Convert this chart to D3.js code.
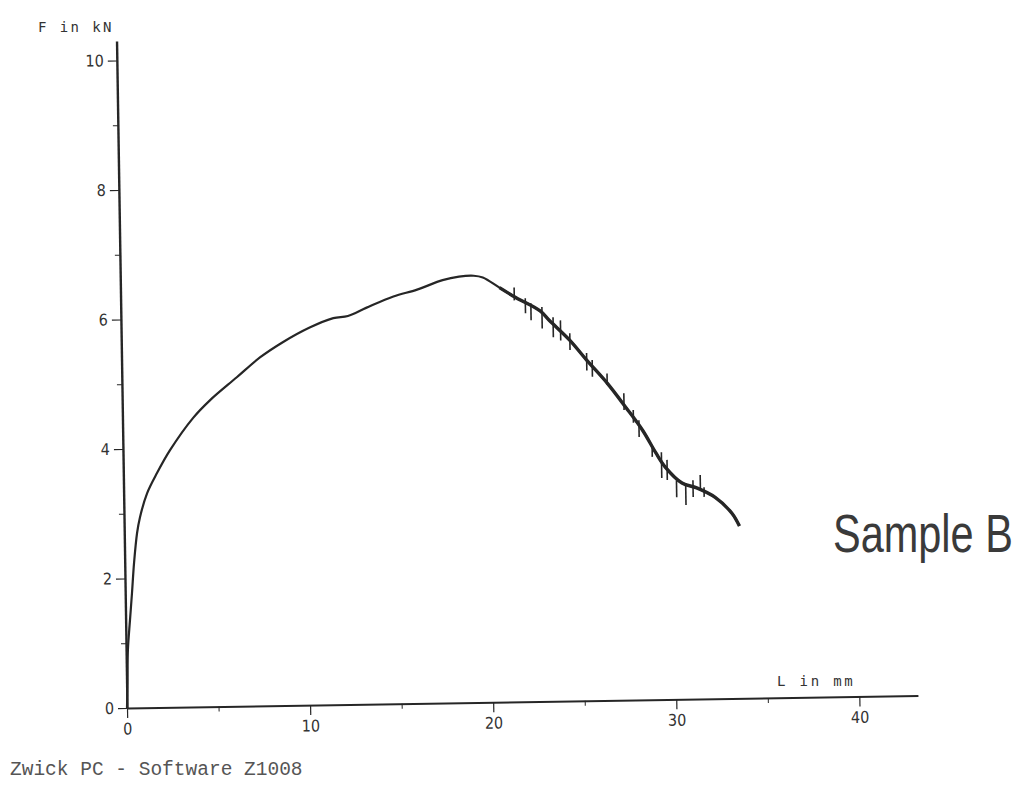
<!DOCTYPE html>
<html lang="en">
<head>
    <meta charset="UTF-8">
    <title>Sample B - Force vs Extension</title>
    <script src="https://d3js.org/d3.v7.min.js"></script>
    <style>
        body { margin: 0; background: #ffffff; }
        svg { display: block; }
    </style>
</head>
<body>
    <div id="chart"></div>

    <script>
        // Curve read from the plotter output (L in mm, F in kN)
        const extensionMm = [0, 0.05, 0.10, 0.24, 0.37, 0.51, 0.70, 0.87, 1.28, 1.84, 2.57, 3.85, 4.79, 6.28, 7.56, 8.82,
            10.3, 11.6, 12.4, 13.4, 14.9, 16.2, 17.6, 18.5, 19.3, 19.8, 20.7, 21.6, 22.9, 23.4, 24.5, 25.4, 26.5,
            27.5, 28.4, 29.1, 29.6, 30.5, 31.3, 32.3, 33.2, 33.6];
        const forceKn = [0, 0.40, 0.90, 1.36, 1.77, 2.24, 2.70, 2.94, 3.31, 3.62, 3.97, 4.46, 4.73, 5.08, 5.38, 5.61,
            5.83, 5.97, 6.00, 6.12, 6.29, 6.39, 6.53, 6.58, 6.59, 6.56, 6.40, 6.24, 6.03, 5.88, 5.57, 5.26, 4.90,
            4.52, 4.16, 3.81, 3.59, 3.34, 3.26, 3.11, 2.86, 2.66];

        // Noise spikes on the falling branch: [L, F low, F high]
        const spikes = [
            [21.5, 6.20, 6.40], [22.1, 6.00, 6.23], [22.4, 5.89, 6.15], [23.0, 5.76, 6.09],
            [23.6, 5.62, 5.93], [24.0, 5.57, 5.88], [24.5, 5.42, 5.68], [25.4, 5.10, 5.37],
            [25.7, 5.00, 5.26], [26.5, 4.87, 5.05], [27.4, 4.48, 4.74], [27.9, 4.28, 4.48],
            [28.2, 4.06, 4.32], [28.9, 3.75, 3.90], [29.4, 3.42, 3.82], [29.7, 3.39, 3.70],
            [30.2, 3.12, 3.38], [30.7, 3.00, 3.34], [31.1, 3.12, 3.38], [31.5, 3.23, 3.46],
            [31.7, 3.12, 3.27]
        ];

        const xMajorTicks = [0, 10, 20, 30, 40];
        const xMinorTicks = [5, 15, 25, 35];
        const yMajorTicks = [0, 2, 4, 6, 8, 10];
        const yMinorTicks = [1, 3, 5, 7, 9];

        const width = 1026;
        const height = 785;

        // the scan is a little crooked, so the plot frame is tilted
        const origin = { x: 127, y: 708 };
        const tilt = -0.9;

        const ink = "#262626";
        const labelFont = "'Liberation Sans Narrow', 'DejaVu Sans Condensed', sans-serif";

        const svg = d3.select("#chart")
            .append("svg")
            .attr("width", width)
            .attr("height", height)
            .style("background", "#ffffff");

        const x = d3.scaleLinear().domain([0, 43.2]).range([0, 791]);
        const y = d3.scaleLinear().domain([0, 10.3]).range([0, -667]);

        const plot = svg.append("g")
            .attr("transform", `translate(${origin.x},${origin.y}) rotate(${tilt})`);

        // x axis: minor then major ticks
        plot.append("g")
            .call(d3.axisBottom(x).tickValues(xMinorTicks).tickSize(5).tickSizeOuter(0).tickFormat(""))
            .call(g => g.select(".domain").attr("stroke", ink).attr("stroke-width", 2))
            .call(g => g.selectAll(".tick line").attr("stroke", ink).attr("stroke-width", 1));

        plot.append("g")
            .call(d3.axisBottom(x).tickValues(xMajorTicks).tickSize(10).tickSizeOuter(0).tickPadding(5))
            .call(g => g.select(".domain").remove())
            .call(g => g.selectAll(".tick line").attr("stroke", ink).attr("stroke-width", 1.2))
            .call(g => g.selectAll(".tick text")
                .attr("fill", "#333")
                .style("font-family", labelFont)
                .style("font-size", "16px"));

        // y axis
        plot.append("g")
            .call(d3.axisLeft(y).tickValues(yMinorTicks).tickSize(5).tickSizeOuter(0).tickFormat(""))
            .call(g => g.select(".domain").attr("stroke", ink).attr("stroke-width", 2.4))
            .call(g => g.selectAll(".tick line").attr("stroke", ink).attr("stroke-width", 1));

        plot.append("g")
            .call(d3.axisLeft(y).tickValues(yMajorTicks).tickSize(9).tickSizeOuter(0).tickPadding(4))
            .call(g => g.select(".domain").remove())
            .call(g => g.selectAll(".tick line").attr("stroke", ink).attr("stroke-width", 1.2))
            .call(g => g.selectAll(".tick text")
                .attr("fill", "#333")
                .style("font-family", labelFont)
                .style("font-size", "16px"));

        // the measured curve
        const points = extensionMm.map((l, i) => [l, forceKn[i]]);

        const line = d3.line()
            .x(d => x(d[0]))
            .y(d => y(d[1]))
            .curve(d3.curveCatmullRom.alpha(0.5));

        plot.append("path")
            .datum(points)
            .attr("fill", "none")
            .attr("stroke", ink)
            .attr("stroke-width", 2.2)
            .attr("stroke-linejoin", "round")
            .attr("d", line);

        // falling branch is noisier, so it prints heavier
        plot.append("path")
            .datum(points.filter(d => d[0] >= 20.5))
            .attr("fill", "none")
            .attr("stroke", ink)
            .attr("stroke-width", 3.4)
            .attr("stroke-linejoin", "round")
            .attr("d", line);

        plot.selectAll(".spike")
            .data(spikes)
            .join("line")
            .attr("class", "spike")
            .attr("x1", d => x(d[0]))
            .attr("x2", d => x(d[0]))
            .attr("y1", d => y(d[1]))
            .attr("y2", d => y(d[2]))
            .attr("stroke", ink)
            .attr("stroke-width", 1.6);

        // axis titles
        svg.append("text")
            .attr("x", 38)
            .attr("y", 32)
            .attr("fill", "#333")
            .style("font-family", "'DejaVu Sans Mono', monospace")
            .style("font-size", "14px")
            .style("letter-spacing", "2.4px")
            .text("F in kN");

        svg.append("text")
            .attr("x", 777)
            .attr("y", 686)
            .attr("fill", "#333")
            .style("font-family", "'DejaVu Sans Mono', monospace")
            .style("font-size", "14px")
            .style("letter-spacing", "2.8px")
            .text("L in mm");

        // the label is stretched tall in the scan
        svg.append("text")
            .attr("transform", "translate(833,552) scale(1,1.3)")
            .attr("fill", "#3a3a3a")
            .style("font-family", "'Liberation Sans', Arial, sans-serif")
            .style("font-size", "41.5px")
            .text("Sample B");

        svg.append("text")
            .attr("x", 10)
            .attr("y", 775)
            .attr("fill", "#555")
            .style("font-family", "'Liberation Mono', 'Courier New', monospace")
            .style("font-size", "19.5px")
            .text("Zwick PC - Software Z1008");
    </script>
</body>
</html>
